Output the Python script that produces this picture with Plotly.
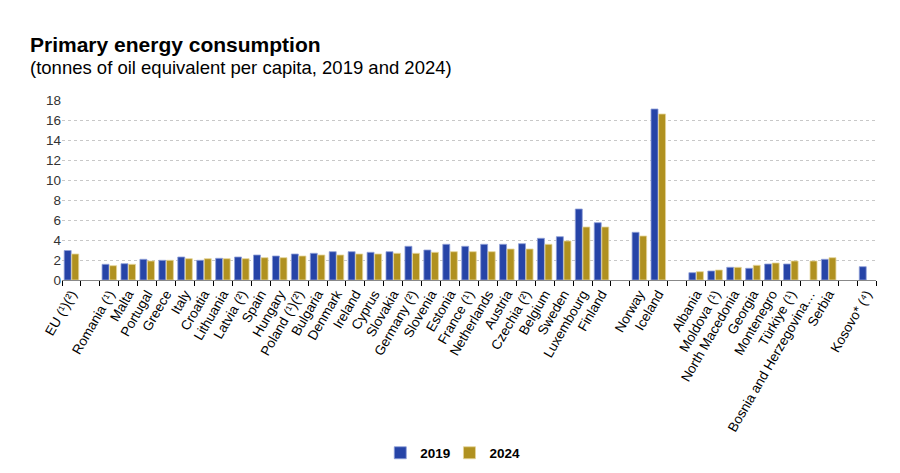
import plotly.graph_objects as go

# countries (blank entries are gaps between groups)
countries = [
    "EU (¹)(²)", " ",
    "Romania (¹)", "Malta", "Portugal", "Greece", "Italy", "Croatia", "Lithuania",
    "Latvia (²)", "Spain", "Hungary", "Poland (¹)(²)", "Bulgaria", "Denmark",
    "Ireland", "Cyprus", "Slovakia", "Germany (²)", "Slovenia", "Estonia",
    "France (¹)", "Netherlands", "Austria", "Czechia (²)", "Belgium", "Sweden",
    "Luxembourg", "Finland", "  ",
    "Norway", "Iceland", "   ",
    "Albania", "Moldova (¹)", "North Macedonia", "Georgia", "Montenegro",
    "Türkiye (¹)", "Bosnia and Herzegovina…", "Serbia", "    ",
    "Kosovo* (⁴)",
]

val_2019 = [
    2.95, None,
    1.57, 1.63, 2.07, 1.97, 2.3, 1.97, 2.17,
    2.3, 2.5, 2.4, 2.6, 2.67, 2.83,
    2.83, 2.77, 2.83, 3.37, 3.0, 3.57,
    3.37, 3.57, 3.57, 3.63, 4.17, 4.33,
    7.1, 5.73, None,
    4.77, 17.1, None,
    0.73, 0.9, 1.27, 1.17, 1.6,
    1.6, None, 2.07, None,
    1.33,
]

val_2024 = [
    2.6, None,
    1.43, 1.57, 1.9, 1.97, 2.13, 2.13, 2.13,
    2.13, 2.23, 2.23, 2.4, 2.5, 2.5,
    2.6, 2.6, 2.67, 2.67, 2.77, 2.83,
    2.83, 2.83, 3.1, 3.1, 3.57, 3.9,
    5.3, 5.3, None,
    4.4, 16.6, None,
    0.83, 1.0, 1.27, 1.47, 1.7,
    1.9, 1.9, 2.23, None,
    None,
]

blue = "#2644A7"
gold = "#B09120"

fig = go.Figure()
fig.add_trace(go.Bar(x=countries, y=val_2019, name="2019", legend="legend",
                     marker=dict(color=blue, line=dict(color="#8fa0d8", width=0.8))))
fig.add_trace(go.Bar(x=countries, y=val_2024, name="2024", legend="legend2",
                     marker=dict(color=gold, line=dict(color="#e6d69a", width=0.8))))

leg_font = dict(size=13.5, color="#000", weight="bold")
clear = "rgba(0,0,0,0)"

# page body adds ~8px offset, margins compensate
fig.update_layout(
    width=900, height=473,
    margin=dict(l=54, r=32, t=92, b=201, autoexpand=False),
    plot_bgcolor="white", paper_bgcolor="white",
    font=dict(family="Liberation Sans, Arial, sans-serif", size=13.5, color="#000"),
    barmode="group", bargap=0.2, bargroupgap=0.08,
    showlegend=True,
    legend=dict(orientation="h", x=0.391, xanchor="left", y=-0.961, yanchor="middle",
                font=leg_font, bgcolor=clear),
    legend2=dict(orientation="h", x=0.476, xanchor="left", y=-0.961, yanchor="middle",
                 font=leg_font, bgcolor=clear),
    annotations=[
        dict(text="<b>Primary energy consumption</b>", xref="paper", yref="paper",
             x=-0.0418, y=1.306, xanchor="left", yanchor="middle", showarrow=False,
             font=dict(size=21, color="#000")),
        dict(text="(tonnes of oil equivalent per capita, 2019 and 2024)", xref="paper",
             yref="paper", x=-0.0418, y=1.178, xanchor="left", yanchor="middle",
             showarrow=False, font=dict(size=18.5, color="#000")),
    ],
)

fig.update_xaxes(
    type="category", tickangle=-60, tickson="boundaries",
    ticks="outside", ticklen=5, tickcolor="#000",
    showline=True, linecolor="#888", linewidth=1,
    showgrid=False, automargin=False, tickfont=dict(size=13.5, color="#000"),
)
fig.update_yaxes(
    range=[0, 18], dtick=2, showgrid=True, gridcolor="#c8c8c8", griddash="dot",
    zeroline=False, showline=False, ticks="", automargin=False,
    tickfont=dict(size=13.5, color="#333"),
)

fig.write_html("out.html")
